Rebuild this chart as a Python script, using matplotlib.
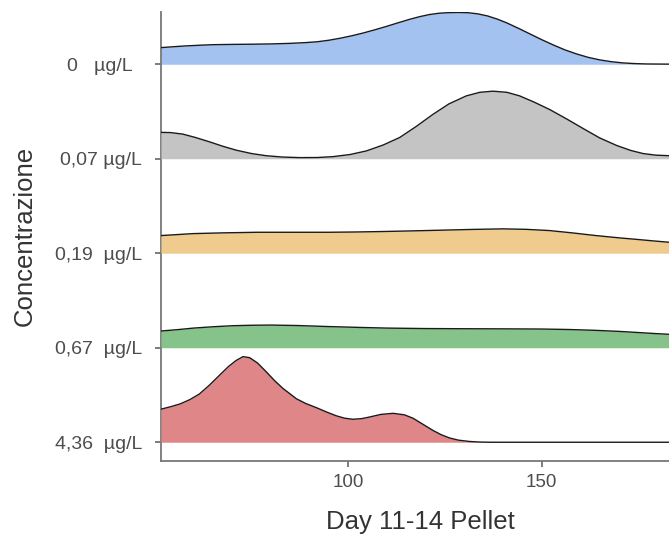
import numpy as np
import matplotlib
matplotlib.use("Agg")
import matplotlib.pyplot as plt

plt.rcParams["font.family"] = ["Liberation Sans", "DejaVu Sans"]

# ridge order, bottom -> top
labels = ["4,36  µg/L", "0,67  µg/L", "0,19  µg/L", "0,07 µg/L", "0   µg/L  "]
colors = ["#df8788", "#86c38a", "#f0cb8e", "#c4c4c4", "#a4c2f0"]

# density heights (in ridge-spacing units)
red_x = [51.6, 54, 56.5, 59, 61.5, 64, 66.5, 69, 71, 72.8, 74.5, 76.5, 78.8, 81, 83.1,
         86.6, 89, 91.7, 94.5, 96.9, 99, 101.2, 103.5, 105.5, 108.5, 111.6, 114.5,
         116.7, 119.5, 121.9, 124, 126.2, 128.5, 131.4, 134, 136.6, 183]
red_h = [0.35, 0.375, 0.405, 0.45, 0.51, 0.6, 0.7, 0.8, 0.865, 0.906, 0.895, 0.84,
         0.745, 0.65, 0.57, 0.46, 0.41, 0.367, 0.318, 0.28, 0.255, 0.243, 0.25, 0.267,
         0.295, 0.306, 0.29, 0.255, 0.185, 0.125, 0.08, 0.045, 0.022, 0.008, 0.002,
         0.0, 0.0]

green_x = [51.6, 56, 60, 65, 70, 75, 80, 87, 95, 103, 110, 120, 131, 140, 150,
           157, 164, 170, 175, 179, 183]
green_h = [0.177, 0.192, 0.208, 0.222, 0.233, 0.238, 0.24, 0.235, 0.224, 0.215,
           0.208, 0.203, 0.201, 0.2, 0.198, 0.193, 0.184, 0.173, 0.161, 0.151, 0.142]

orange_x = [51.6, 56, 60, 68, 76.5, 85, 95, 102, 109, 117, 125, 132, 140, 146,
            152, 158, 164, 170, 175, 179, 183]
orange_h = [0.187, 0.198, 0.208, 0.216, 0.222, 0.222, 0.222, 0.225, 0.23, 0.237,
            0.245, 0.252, 0.258, 0.253, 0.24, 0.215, 0.187, 0.163, 0.145, 0.13, 0.116]

grey_x = [51.6, 54, 57.2, 60.5, 64.2, 67.5, 71.1, 75, 78.8, 83, 87.4, 92, 96,
          100.5, 104.7, 109, 113.3, 117.5, 121.9, 126, 130.5, 134, 137.4, 141,
          144.3, 148, 152.1, 156.5, 160.7, 165, 169.4, 173, 176.2, 179.5, 183]
grey_h = [0.279, 0.277, 0.261, 0.225, 0.178, 0.133, 0.09, 0.055, 0.032, 0.018, 0.012,
          0.013, 0.022, 0.045, 0.083, 0.145, 0.225, 0.34, 0.47, 0.58, 0.665, 0.703,
          0.715, 0.703, 0.665, 0.6, 0.52, 0.42, 0.32, 0.22, 0.14, 0.088, 0.055,
          0.038, 0.032]

blue_x = [51.6, 55, 58, 62, 65, 70, 75, 80, 85, 89, 92, 95, 98, 101, 104, 107, 110,
          113, 116, 118.5, 121, 123.5, 126, 128.5, 131, 133.5, 136, 138.5, 141, 144,
          147, 150, 153, 156, 159, 162, 165, 168, 171, 174, 177, 180, 183]
blue_h = [0.176, 0.186, 0.194, 0.202, 0.207, 0.21, 0.212, 0.215, 0.221, 0.229, 0.238,
          0.254, 0.276, 0.302, 0.332, 0.366, 0.402, 0.44, 0.477, 0.504, 0.526, 0.54,
          0.546, 0.548, 0.545, 0.533, 0.511, 0.478, 0.437, 0.38, 0.32, 0.26, 0.204,
          0.152, 0.109, 0.073, 0.046, 0.027, 0.014, 0.007, 0.003, 0.002, 0.001]

series = [(red_x, red_h), (green_x, green_h), (orange_x, orange_h),
          (grey_x, grey_h), (blue_x, blue_h)]

fig = plt.figure(figsize=(6.69, 5.4), dpi=100)
ax = fig.add_axes([0.2407, 0.1469, 0.7593, 0.8309])

# draw top ridge first so lower ones sit on top
for i in reversed(range(len(series))):
    x, h = series[i]
    x = np.asarray(x)
    y = i + np.asarray(h)
    ax.fill_between(x, i, y, color=colors[i], lw=0, zorder=2 * (5 - i))
    ax.plot(x, y, color="#1a1a1a", lw=1.0, zorder=2 * (5 - i) + 1,
            solid_joinstyle="round")

ax.set_xlim(51.6, 182.9)
ax.set_ylim(-0.195, 4.553)
ax.set_xticks([100, 150])
ax.set_yticks(range(5))
ax.set_yticklabels(labels)

for s in ["top", "right"]:
    ax.spines[s].set_visible(False)
for s in ["left", "bottom"]:
    ax.spines[s].set_color("#777777")
    ax.spines[s].set_linewidth(1.3)
ax.tick_params(axis="both", colors="#666666", length=4, width=1.2,
               labelcolor="#4d4d4d")
ax.tick_params(axis="x", labelsize=13.5, pad=5.5)
ax.tick_params(axis="y", labelsize=14, pad=9.5)

fig.text(420 / 669, 1 - 522 / 540, "Day 11-14 Pellet", fontsize=18.5,
         color="#333333", ha="center", va="center")
fig.text(25 / 669, 1 - 236 / 540, "Concentrazione", fontsize=18.5,
         color="#333333", ha="center", va="center", rotation=90)

fig.savefig("out.png", dpi=100)
